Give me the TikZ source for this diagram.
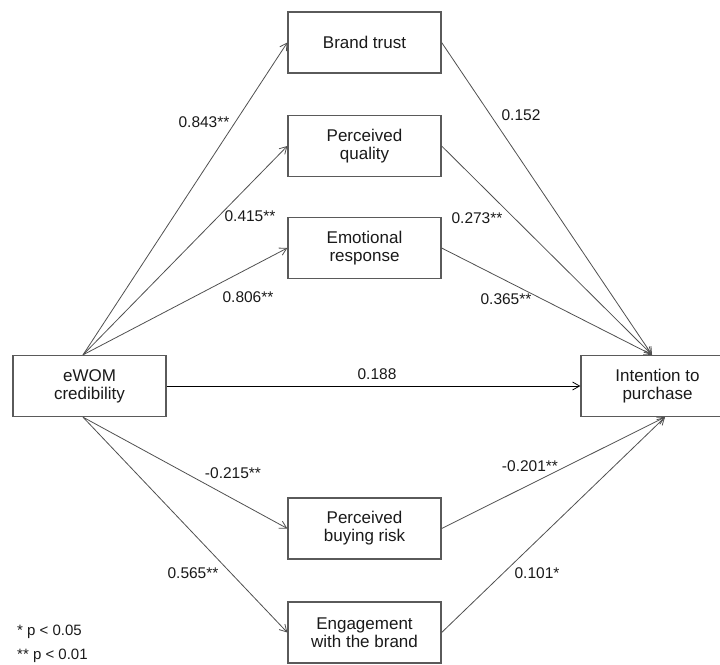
\documentclass[tikz,border=0pt]{standalone}
\usepackage{fontspec}
\setmainfont{Liberation Sans}
\usetikzlibrary{arrows.meta}
\definecolor{boxline}{HTML}{5A5A5A}
\definecolor{edgeline}{HTML}{505050}
\definecolor{txt}{HTML}{1A1A1A}
\begin{document}
\begin{tikzpicture}[x=1pt,y=-1pt,
  box/.style={draw=boxline, line width=1.3pt, fill=white, minimum width=153pt, minimum height=61pt, inner sep=0pt, align=center, font=\fontsize{17}{18}\selectfont, text=txt},
  conn/.style={draw=edgeline, line width=0.8pt, -{Straight Barb[length=7pt,width=8pt,line width=0.8pt]}},
  lbl/.style={font=\fontsize{15.5}{17}\selectfont, text=txt, inner sep=0pt},
]
\useasboundingbox (0,0) rectangle (720,664);
\clip (0,0) rectangle (720,664);
\node[box] (ewom) at (89.5,386) {eWOM\\credibility};
\node[box] (int) at (657.5,386) {Intention to\\purchase};
\node[box] (bt) at (364.5,42.5) {Brand trust};
\node[box] (pq) at (364.5,146) {Perceived\\quality};
\node[box] (er) at (364.5,248) {Emotional\\response};
\node[box] (br) at (364.5,528.5) {Perceived\\buying risk};
\node[box] (eg) at (364.5,632.5) {Engagement\\with the brand};

\draw[conn] ([xshift=-6.5pt]ewom.north) -- (bt.west);
\draw[conn] ([xshift=-6.5pt]ewom.north) -- (pq.west);
\draw[conn] ([xshift=-6.5pt]ewom.north) -- (er.west);
\draw[conn] ([xshift=-6.5pt]ewom.south) -- (br.west);
\draw[conn] ([xshift=-6.5pt]ewom.south) -- (eg.west);
\draw[conn] (bt.east) -- ([xshift=-5.5pt]int.north);
\draw[conn] (pq.east) -- ([xshift=-5.5pt]int.north);
\draw[conn] (er.east) -- ([xshift=-5.5pt]int.north);
\draw[conn] (br.east) -- ([xshift=7.5pt]int.south);
\draw[conn] (eg.east) -- ([xshift=7.5pt]int.south);
\draw[conn, draw=black] (ewom.east) -- (int.west);

\node[lbl] (l1) at (204,122) {0.843**};
\node[lbl] (l2) at (250,216) {0.415**};
\node[lbl] (l3) at (248,297) {0.806**};
\node[lbl] (l4) at (521,115) {0.152};
\node[lbl] (l5) at (477,218) {0.273**};
\node[lbl] (l6) at (506,299) {0.365**};
\node[lbl] (l7) at (377,374) {0.188};
\node[lbl] (l8) at (233,473) {-0.215**};
\node[lbl] (l9) at (530,466) {-0.201**};
\node[lbl] (l10) at (193,573) {0.565**};
\node[lbl] (l11) at (537,573) {0.101*};
\node[lbl, font=\fontsize{15}{17}\selectfont, anchor=base west] (n1) at (17,635) {* p < 0.05};
\node[lbl, font=\fontsize{15}{17}\selectfont, anchor=base west] (n2) at (17,659) {** p < 0.01};
\end{tikzpicture}
\end{document}
